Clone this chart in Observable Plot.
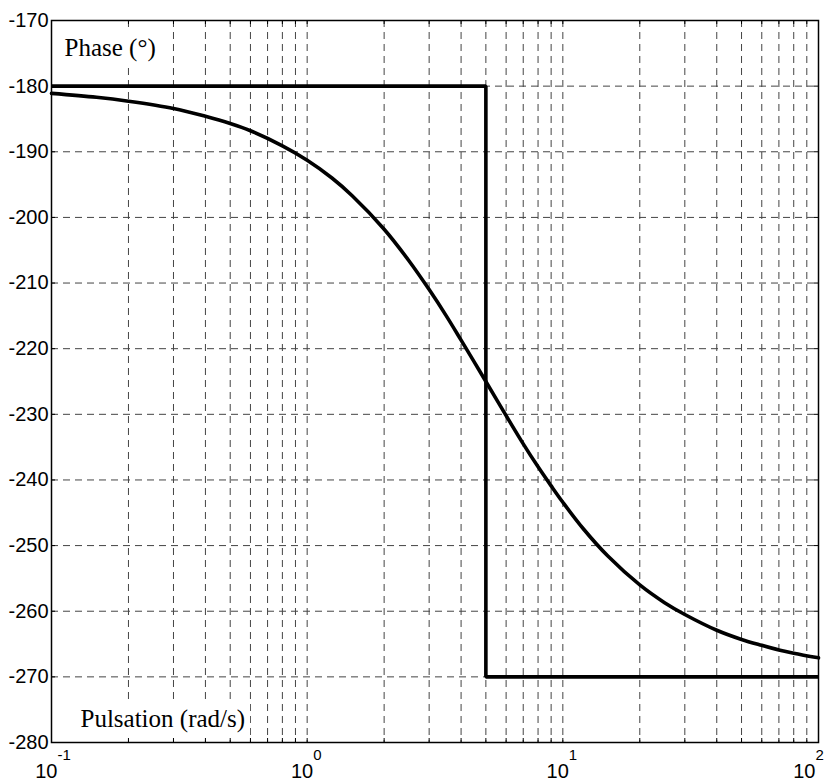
<!DOCTYPE html>
<html>
<head>
<meta charset="utf-8">
<script src="https://cdn.jsdelivr.net/npm/d3@7"></script>
<script src="https://cdn.jsdelivr.net/npm/@observablehq/plot@0.6"></script>
<style>
  html, body { margin: 0; padding: 0; background: #fff; }
  #chart svg { display: block; }
</style>
</head>
<body>
<div id="chart"></div>
<script>
// Phase curve: pulsation (rad/s) and phase (degrees)
const pulsation = [0.1, 0.15, 0.2, 0.3, 0.4, 0.5, 0.6, 0.8, 1, 1.25, 1.5, 2, 2.5, 3, 3.5, 4, 4.5, 5,
  6, 7, 8, 9, 10, 12, 15, 20, 25, 30, 40, 50, 60, 70, 80, 100];
const phase = [-181.1, -181.7, -182.3, -183.4, -184.6, -185.7, -186.8, -189.1, -191.3, -194.0, -196.7,
  -201.8, -206.6, -211.0, -215.0, -218.7, -222.0, -225.0, -230.2, -234.5, -238.0, -240.9, -243.4,
  -247.4, -251.6, -256.0, -258.7, -260.5, -262.9, -264.3, -265.2, -265.9, -266.4, -267.1];

// Asymptotic (step) approximation
const asymPulsation = [0.1, 5, 5, 100];
const asymPhase = [-180, -180, -270, -270];

// Axes
const yTicks = [-280, -270, -260, -250, -240, -230, -220, -210, -200, -190, -180, -170];
const xTicks = [0.1, 1, 10, 100];
const xTickBase = ["10", "10", "10", "10"];
const xTickExp = ["-1", "0", "1", "2"];
const xDomain = [0.1, 100];
const yDomain = [-280, -170];
const yLabel = "Phase (°)";
const xLabel = "Pulsation (rad/s)";

const curve = pulsation.map((w, i) => ({w, p: phase[i]}));
const asym = asymPulsation.map((w, i) => ({w, p: asymPhase[i]}));
const gridX = d3.scaleLog().domain(xDomain).ticks();
const xLab = xTicks.map((t, i) => ({t, base: xTickBase[i], exp: xTickExp[i], last: i === xTicks.length - 1}));

const serif = "'Liberation Serif', 'Times New Roman', serif";
const dash = "7,5";
const gridColor = "#444";

const chart = Plot.plot({
  width: 838,
  height: 780,
  marginLeft: 51,
  marginRight: 20,
  marginTop: 20,
  marginBottom: 38,
  style: {fontFamily: "'Liberation Sans', Arial, sans-serif", fontSize: "20px", background: "#fff", color: "#000"},
  x: {type: "log", domain: xDomain, axis: null},
  y: {domain: yDomain, axis: null},
  marks: [
    // dashed grid
    Plot.ruleX(gridX, {x: d => d, stroke: gridColor, strokeWidth: 1, strokeDasharray: dash}),
    Plot.ruleY(yTicks, {y: d => d, stroke: gridColor, strokeWidth: 1, strokeDasharray: dash}),
    // inward ticks
    Plot.ruleX(gridX, {x: d => d, y1: yDomain[0], y2: yDomain[0], insetTop: -4, stroke: "#000"}),
    Plot.ruleX(gridX, {x: d => d, y1: yDomain[1], y2: yDomain[1], insetBottom: -4, stroke: "#000"}),
    Plot.ruleY(yTicks, {y: d => d, x1: xDomain[0], x2: xDomain[0], insetRight: -4, stroke: "#000"}),
    Plot.ruleY(yTicks, {y: d => d, x1: xDomain[1], x2: xDomain[1], insetLeft: -4, stroke: "#000"}),
    // y axis labels
    Plot.axisY(yTicks, {tickSize: 0, tickPadding: 3, fontSize: 20, tickFormat: d => String(d), label: null}),
    // x axis labels with superscript exponents
    Plot.text(xLab.filter(d => !d.last), {x: "t", y: yDomain[0], text: "base", textAnchor: "end", lineAnchor: "bottom", dx: 6, dy: 35, fontSize: 20}),
    Plot.text(xLab.filter(d => !d.last), {x: "t", y: yDomain[0], text: "exp", textAnchor: "start", lineAnchor: "bottom", dx: 6, dy: 17, fontSize: 15}),
    Plot.text(xLab.filter(d => d.last), {x: "t", y: yDomain[0], text: "base", textAnchor: "end", lineAnchor: "bottom", dx: -3, dy: 35, fontSize: 20}),
    Plot.text(xLab.filter(d => d.last), {x: "t", y: yDomain[0], text: "exp", textAnchor: "start", lineAnchor: "bottom", dx: -3, dy: 17, fontSize: 15}),
    // in-plot labels (white box drawn behind them after render)
    Plot.text([yLabel], {frameAnchor: "top-left", text: d => d, textAnchor: "start", lineAnchor: "bottom", dx: 13, dy: 35, fontSize: 25, fontFamily: serif, className: "inlabel"}),
    Plot.text([xLabel], {frameAnchor: "bottom-left", text: d => d, textAnchor: "start", lineAnchor: "bottom", dx: 29, dy: -16, fontSize: 25, fontFamily: serif, className: "inlabel"}),
    // data
    Plot.line(asym, {x: "w", y: "p", stroke: "#000", strokeWidth: 3.6, strokeLinejoin: "miter", strokeLinecap: "butt"}),
    Plot.line(curve, {x: "w", y: "p", stroke: "#000", strokeWidth: 3.6, curve: "catmull-rom"}),
    Plot.frame({stroke: "#000", strokeWidth: 1.5})
  ]
});
document.getElementById("chart").appendChild(chart);

// white background boxes behind the in-plot labels
d3.select(chart).selectAll("g.inlabel").each(function () {
  const b = this.getBBox();
  const pad = 5;
  d3.select(this).insert("rect", ":first-child")
    .attr("x", b.x - pad).attr("y", b.y - pad)
    .attr("width", b.width + 2 * pad).attr("height", b.height + 2 * pad)
    .attr("fill", "#fff").attr("stroke", "none");
});
</script>
</body>
</html>
